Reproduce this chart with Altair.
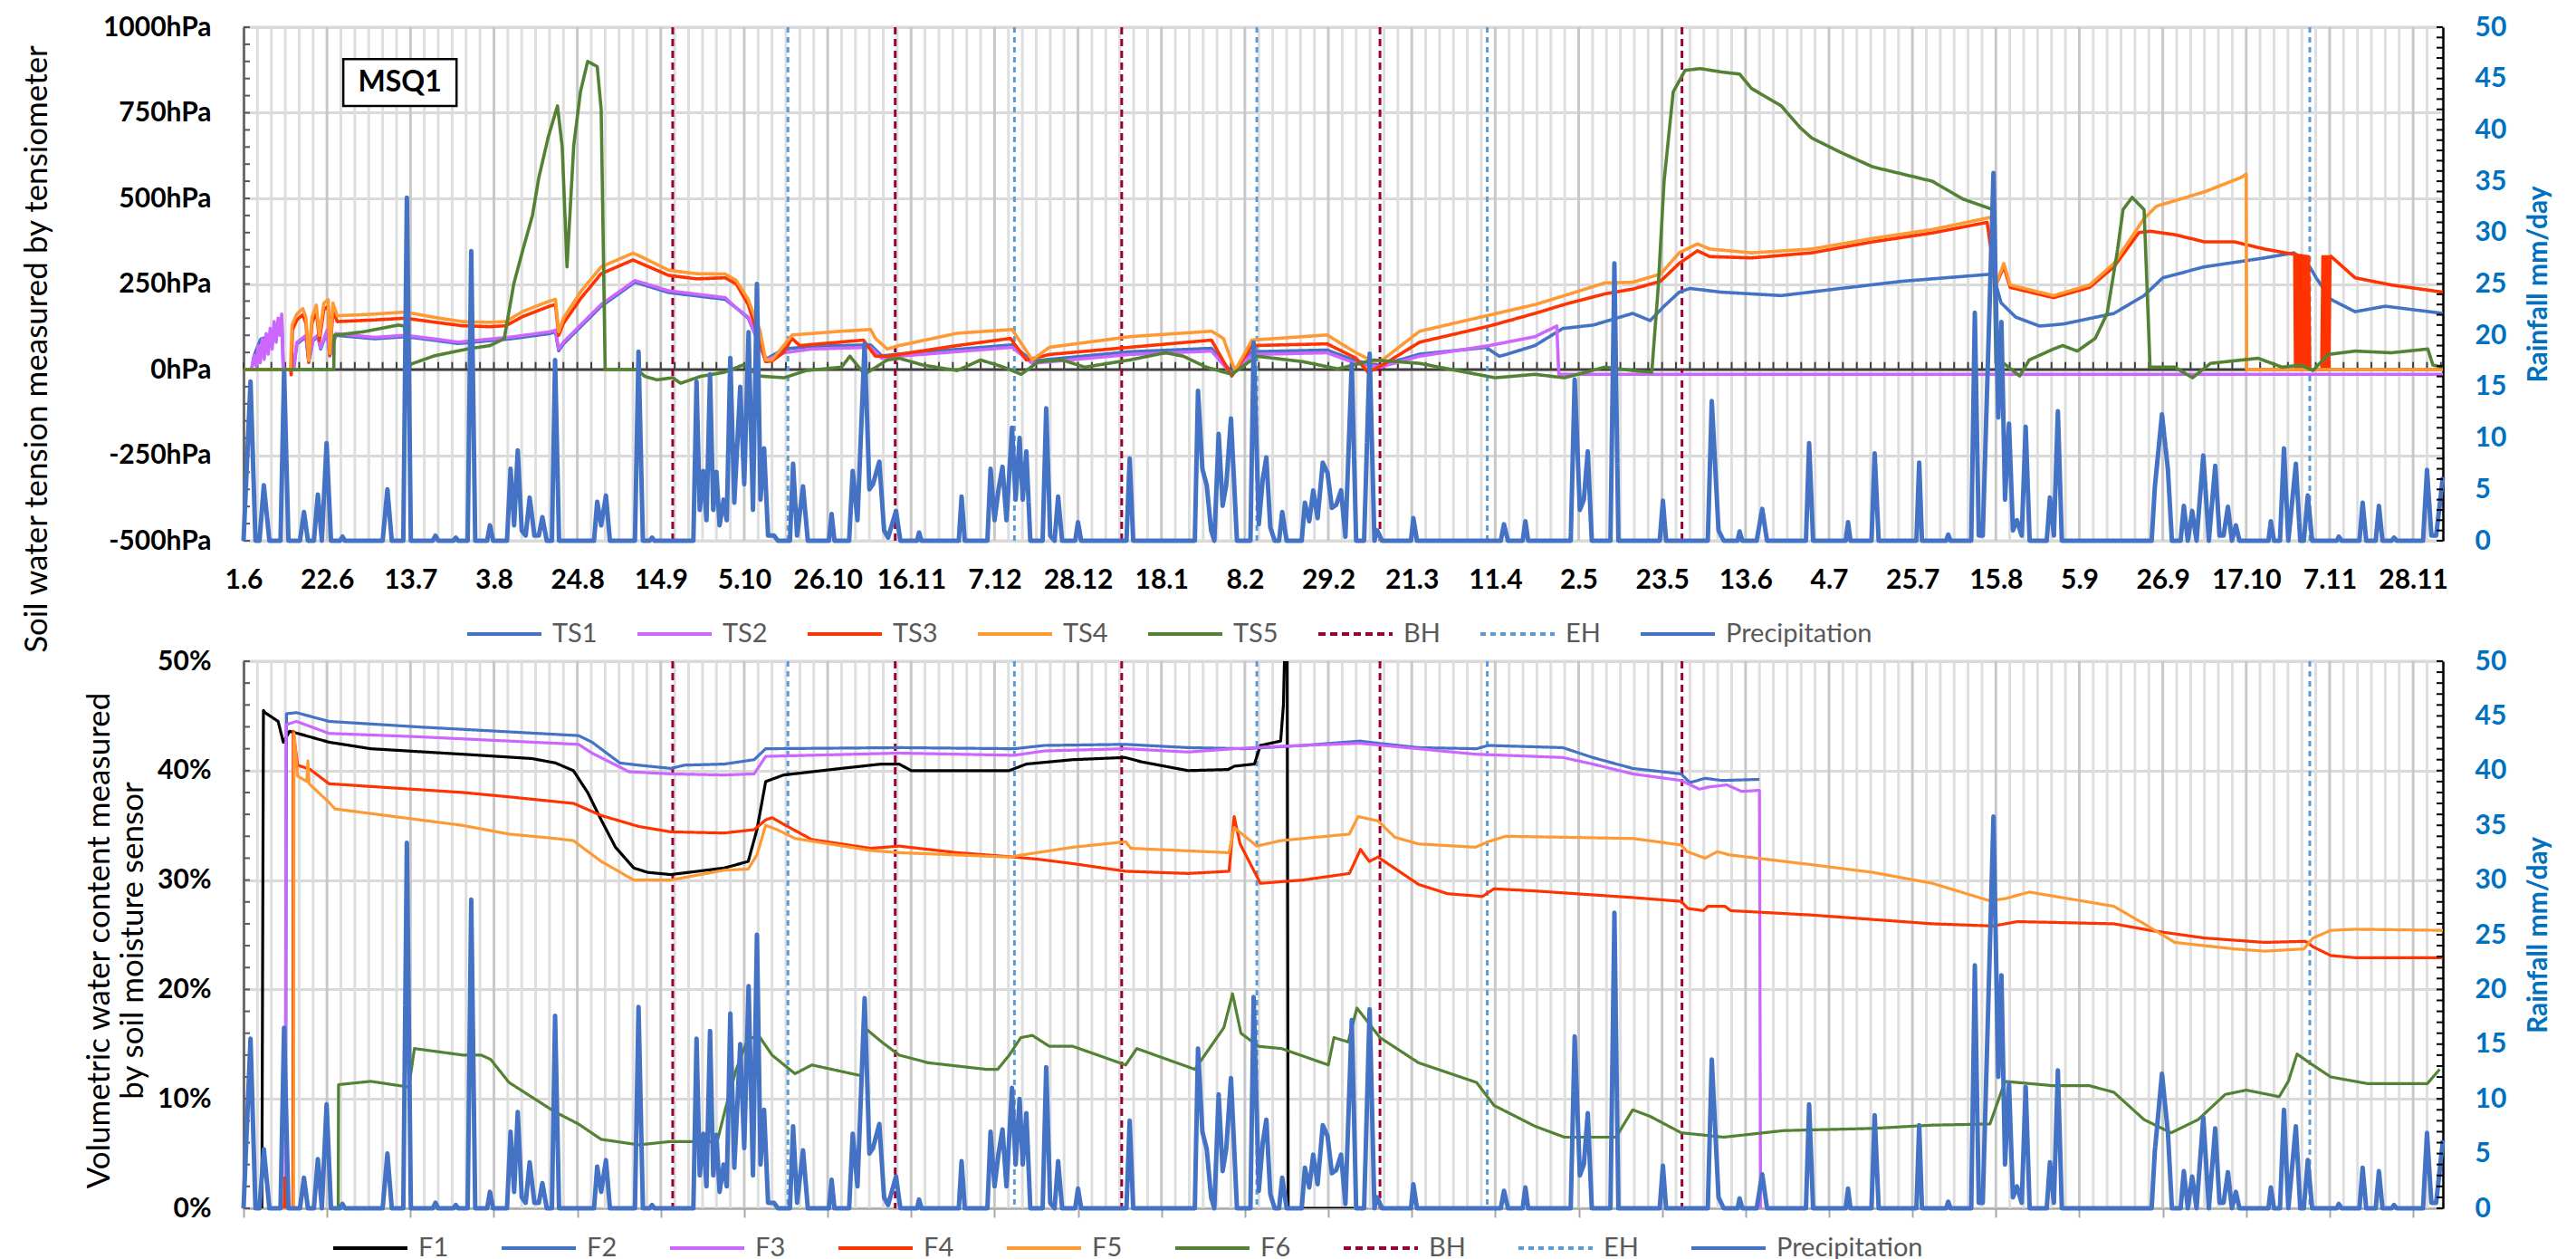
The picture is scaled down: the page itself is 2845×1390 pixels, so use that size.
import altair as alt
import pandas as pd
from datetime import date

FONT = "Lato"
START = date(2015, 6, 1)   # day 0 of the record (label "1.6")
X_END = 553.5              # last day shown on the x axis

# ---------------- values ----------------
# points are (days after 1 June 2015, value)
TS1 = [(0,0),(2,0),(2.7,42),(4.3,89),(6,95),(8,120),(9.6,150),(10,0),(12.6,0),(13.4,75),(15.7,95),(16.4,22),
       (17.5,85),(18.7,95),(19.4,60),(21,110),(21.7,40),(23.2,100),(33,90),(40.7,96),(48.3,85),(54,76),(67.4,90),
       (77,105),(78.5,110),(79.3,55),(80.5,75),(90,185),(98.5,255),(107,225),(121.2,205),(124,180),(127,150),
       (131.4,30),(136,60),(143,68),(157.8,72),(160.6,40),(165,45),(193.4,72),(198.5,25),(223,52),(243.6,62),
       (248.7,-8),(253.8,52),(272.7,57),(280,25),(286,12),(296,45),(313,65),(313.3,60),(316,39),(318,45),(325,70),
       (332,120),(339.7,130),(349.6,164),(354,143),(357.5,185),(361.3,226),(364,237),(371.9,226),(387,216),
       (402,237),(417.5,258),(440.3,279),(442.3,195),(446,153),(452,127),(458,133),(470.7,164),(478.3,216),
       (483,268),(493.5,300),(508.6,326),(516,341),(520,300),(521.6,268),(525.3,205),(531.4,169),(539,185),
       (553.5,164)]
TS2 = [(0,0),(2,0),(2.7,42),(3.2,10),(3.7,70),(4.2,20),(4.7,90),(5.2,30),(5.7,105),(6.2,45),(6.7,120),(7.2,60),
       (7.7,140),(8.2,80),(8.7,150),(9.2,100),(9.6,162),(10,0),(12.6,0),(13.4,79),(15.7,100),(16.4,26),(17.5,89),
       (18.7,100),(19.4,63),(21,115),(21.7,42),(23.2,105),(33,94),(40.7,100),(48.3,89),(54,80),(67.4,95),(77,110),
       (78.5,115),(79.3,60),(80.5,80),(90,190),(98.5,260),(107,230),(121.2,210),(124,180),(127,153),(131.4,28),
       (136,49),(143,60),(157.8,65),(160.6,33),(165,39),(193.4,65),(198.5,18),(223,44),(243.6,54),(248.7,-14),
       (253.8,44),(272.7,49),(280,18),(286,7),(296,39),(313.5,70),(325,96),(330.5,127),(331,-14),(553.5,-14)]
TS3 = [(0,0),(11.8,0),(12.0,-15),(12.3,115),(13.4,145),(14.9,160),(15.7,135),(16.4,21),(17.2,135),(18.3,170),
       (19.1,85),(20.2,175),(21.3,185),(21.7,42),(22.5,170),(23.6,140),(33,145),(40.7,150),(48.3,138),(55,128),
       (62,125),(66,128),(70.3,155),(77,185),(78.5,190),(79.3,100),(80.5,135),(85,210),(90,280),(98,320),(100,310),
       (107,275),(114,265),(121.2,268),(124,250),(127,190),(130,80),(131.4,23),(133,25),(135.9,50),(138,91),
       (140,70),(156,86),(159,39),(162,39),(179.6,70),(193,91),(197,28),(202.8,44),(223,65),(243.6,86),
       (248.7,-19),(253.8,70),(272.7,75),(280,33),(283,-8),(286.6,13),(296,80),(313.5,127),(325,164),(332.4,190),
       (342.6,221),(349.6,235),(356.6,258),(361.3,310),(365.9,347),(369,330),(379.5,326),(394.7,341),(410,373),
       (425,399),(438.8,430),(441,247),(443,300),(444.6,240),(455.5,210),(464.6,240),(470.7,300),(477,400),
       (479.8,404),(486,394),(493.5,373),(501,373),(508.6,352),(516.2,336),(516.4,0),(516.7,336),(517,0),
       (517.3,334),(517.6,0),(517.9,333),(518.2,0),(518.5,332),(518.8,0),(519.1,331),(519.4,0),(519.7,330),
       (520,0),(523,0),(523.3,330),(523.6,0),(523.9,330),(524.2,0),(524.5,330),(524.8,0),(525.1,330),
       (525.3,331),(531.4,268),(540.5,247),(553.5,226)]
TS4 = [(0,0),(11.8,0),(12.2,130),(13.4,162),(14.9,178),(15.7,152),(16.4,26),(17.2,152),(18.3,188),(19.1,100),
       (20.2,194),(21.3,204),(21.7,47),(22.5,194),(23.6,157),(33,162),(40.7,168),(48.3,152),(55,140),(62,138),
       (66,140),(70.3,170),(77,200),(78.5,205),(79.3,110),(80.5,150),(85,230),(90,300),(98,340),(100,330),
       (107,290),(114,280),(121.2,279),(124,260),(127,205),(130,112),(131.4,28),(133,28),(135.9,70),(138.1,101),
       (150.5,112),(157.8,117),(159,91),(162,60),(165,70),(179.6,106),(193.4,117),(198.5,28),(202.8,65),(223,96),
       (243.6,112),(246.6,91),(249.5,-3),(253.8,86),(272.7,101),(277,70),(280,49),(284.4,23),(286.6,28),(296,112),
       (313.5,159),(325.1,190),(332.4,216),(342.6,253),(349.6,255),(356.6,279),(361.3,341),(365.9,367),(369,352),
       (379.5,341),(394.7,352),(410,383),(425,409),(440.3,446),(441,247),(443,310),(444.6,247),(455.5,216),
       (464.6,247),(470.7,310),(478.3,441),(481.4,477),(493.5,519),(502.7,561),(504,571),(504.1,0),(553.5,0)]
TS5 = [(0,0),(22.7,0),(22.8,100),(30,110),(39,130),(40.5,127),(41.3,10),(42.4,17),(48,40),(56.3,60),(62,70),
       (65.6,90),(68,250),(70.3,350),(72.7,450),(74.3,560),(76.7,680),(79,770),(80.2,650),(81.4,300),(83.1,655),
       (84.8,812),(86.6,900),(89,885),(90,760),(91,0),(99,0),(101,-20),(104,-30),(108,-24),(110,-40),(115,-20),
       (121,-8),(125.6,13),(130,-19),(136,-24),(141.6,-3),(150.5,7),(152.6,39),(156.3,-14),(162,28),(165,33),
       (171,13),(179.6,-3),(185.5,28),(191.3,7),(195.7,-14),(200,23),(206,28),(211.7,7),(223,28),(232,49),
       (236.5,39),(242.3,7),(248.7,-14),(255,39),(266.6,23),(275.4,2),(284.4,28),(296,18),(307.6,-8),(315,-24),
       (325,-14),(332.4,-24),(342.6,7),(349.6,-3),(354.4,-8),(356,237),(357.5,550),(359.8,811),(362.8,874),
       (366.6,879),(372,869),(376.5,863),(379.5,821),(387,770),(391.7,707),(394.7,676),(402,634),(410,592),
       (417.5,571),(425,550),(432.7,498),(440.3,467),(441,18),(443,18),(447,-19),(449.4,28),(455.5,60),
       (457.8,70),(461.5,54),(466,91),(469,164),(471.5,341),(473,467),(475.3,503),(478.3,467),(479.8,7),(486,7),
       (490.5,-24),(495,18),(507,33),(513,7),(517.8,13),(520.8,-3),(524.6,44),(531.4,54),(540.5,49),(549.7,60),
       (551,13),(553.5,7)]

F1 = [(4.6,0),(5.0,45.5),(5.4,45.3),(8.7,44.5),(10,42.6),(11.6,43.6),(15.6,43.2),(21.5,42.6),(32,42),(55,41.5),
      (72.6,41.1),(78.5,40.7),(83,40),(86.6,38),(90,35.5),(93.6,33),(98.2,31.1),(101.7,30.7),(107.5,30.5),
      (121,31.1),(127,31.7),(129.2,34.6),(131.4,39),(135.9,39.6),(150.4,40.2),(160.5,40.6),(165,40.6),(168,40),
      (192.7,40),(197,40.6),(208.7,41),(221.8,41.2),(226,40.8),(237.7,40),(247.8,40.1),(249.3,40.4),(254.4,40.6),
      (255.9,42.3),(261,42.7),(261.7,46),(262.6,60),(262.9,0),(279.4,0)]
F2 = [(10.6,0),(10.8,45.2),(13.3,45.3),(21.5,44.5),(43.6,44),(84.3,43.2),(87.7,42.6),(94.7,40.7),(99.4,40.5),
      (107.5,40.2),(111,40.5),(121,40.6),(128.5,41),(131.4,42),(165,42.1),(194,42),(201.5,42.3),(221.8,42.4),
      (237.7,42.1),(252,42),(266.6,42.3),(281,42.7),(285.5,42.5),(295.7,42.1),(310.3,42),(313.2,42.3),(332,42.1),
      (339.5,41.2),(349.6,40.2),(361.8,39.7),(364,38.9),(367.8,39.3),(372,39.1),(381.5,39.2)]
F3 = [(10.5,0),(10.7,44.2),(13.3,44.5),(21.5,43.4),(43.6,43.1),(84.3,42.4),(87.7,41.6),(97,39.9),(107.5,39.7),
      (121,39.6),(128.5,39.7),(131.4,41.3),(165,41.6),(194,41.4),(201.5,41.8),(222,42),(237.7,41.7),(249.3,42),
      (259.5,42.2),(281,42.5),(310,41.5),(332,41.2),(339.5,40.6),(349.6,39.7),(361.8,39.1),(366.4,38.3),
      (368.7,38.5),(373.3,38.7),(377,38.1),(381.5,38.2),(381.8,0)]
F4 = [(10.2,0),(10.4,2.8),(10.6,0),(12.4,0),(12.5,43.6),(13.6,40.5),(16.8,40.1),(21.5,38.8),(55.2,38),
      (66.8,37.6),(83.1,37),(90,35.9),(99.4,34.9),(107.5,34.4),(121,34.3),(128.5,34.6),(131.4,35.5),(133,35.7),
      (137.4,34.8),(143,33.7),(157.8,32.9),(165,33.1),(179.6,32.5),(194,32.1),(200,31.9),(208.7,31.5),(222,30.8),
      (237.7,30.6),(248,30.8),(249.3,35.8),(250.8,33.3),(255.9,29.7),(266.6,30),(278.3,30.6),(281.1,32.8),
      (283.3,31.7),(285.5,32.1),(295.7,29.6),(303,28.75),(311.8,28.5),(314.7,29.2),(325,29),(349.6,28.4),
      (361.8,28.05),(363.5,27.4),(367.4,27.2),(368.5,27.6),(372.8,27.6),(374.3,27.2),(394.7,26.8),(425,26),
      (440.3,25.8),(446.4,26.2),(470.7,26),(479.8,25.4),(493.5,24.7),(508.6,24.3),(518.9,24.4),(520.8,23.9),
      (525.3,23.1),(531.4,22.9),(553.5,22.9)]
F5 = [(12.6,0),(12.7,43.4),(13.6,39.5),(15.9,39.0),(16.2,40.9),(16.5,38.8),(21.5,37.1),(23,36.5),(55,35),
      (66.8,34.2),(78.5,33.8),(83,33.6),(90,31.7),(98.2,30),(107.5,30),(121,30.9),(127,31),(129.2,32.3),
      (131.4,35),(134.3,34.6),(138.8,33.8),(157.8,32.7),(165,32.5),(193,32.1),(196,32.3),(208.7,33),(222,33.5),
      (223.3,32.9),(248,32.5),(249.3,34.8),(252,34),(255,33.1),(261,33.6),(278.3,34.2),(280.5,35.8),(285.5,35.4),
      (289.8,33.9),(295.7,33.3),(310,33),(313.2,33.5),(317.6,34),(349.6,33.8),(361.8,33.2),(363.3,32.6),
      (367.8,32),(370.9,32.6),(373.9,32.3),(394.7,31.4),(410,30.7),(425,29.7),(439.5,28.1),(443.3,28.3),
      (449.4,28.9),(470.7,27.6),(478.3,26),(486,24.3),(501,23.7),(508.6,23.5),(518.5,23.7),(520.8,24.7),
      (525.3,25.4),(531.4,25.5),(553.5,25.4)]
F6 = [(23.8,0),(23.9,11.3),(32,11.6),(41.2,11.1),(41.6,11.1),(43,14.6),(55.2,14),(59.8,14),(62.2,13.6),
      (66.8,11.5),(78.4,8.8),(84.3,7.7),(90,6.3),(99.4,5.8),(107.5,6.1),(119.2,6.1),(121.2,9),(124,12.7),
      (127,15.6),(130,15.6),(133,14),(137.4,12.7),(138.8,12.3),(143,13.1),(155.6,12.1),(156.3,16.5),(160.6,15.2),
      (165,14),(172.3,13.3),(186.9,12.7),(189.8,12.7),(192.7,14),(195.6,15.6),(198.5,15.8),(202.8,14.8),
      (208.7,14.8),(222,13.1),(224.8,14.6),(239.4,12.7),(246.7,16.5),(248.9,19.6),(251,16),(255.4,14.8),
      (261.2,14.6),(273,13.1),(274.4,15.6),(278,15.2),(280.2,18.3),(286,15.6),(295.7,13.3),(310.3,11.5),
      (314.7,9.4),(325,7.5),(332.4,6.5),(345.4,6.5),(349.6,9),(354,8.4),(361.8,6.9),(372.5,6.5),(387.6,7.1),
      (410,7.3),(425,7.6),(439.5,7.7),(443.3,11.6),(455.5,11.2),(464.6,11.2),(470.7,10.6),(478.3,8.1),
      (485.1,6.9),(491.9,8.1),(498.7,10.4),(504,10.8),(512.3,10.2),(514.6,11.6),(516.8,14.1),(519.9,13.3),
      (525.3,12),(534.4,11.4),(549.6,11.4),(552.7,12.7)]

PRECIP = [(0,0),(1.75,15.5),(3.0,0),(4.0,0),(5.1,5.4),(6.5,0),(9.3,0),(10.2,16.5),(11.3,0),(14.2,0),(15.2,2.8),
          (16.2,0),(17.7,0),(18.7,4.5),(19.7,0),(20.9,9.5),(22.0,0),(24.3,0),(24.9,0.4),(25.5,0),(35.0,0),
          (36.2,5.0),(37.3,0),(40.2,0),(41.1,33.4),(42.1,0),(47.6,0),(48.3,0.5),(49.0,0),(52.8,0),(53.4,0.3),
          (54.0,0),(56.4,0),(57.3,28.2),(58.3,0),(61.3,0),(62.0,1.5),(62.8,0),(66.3,0),(67.2,7.0),(68.1,1.5),
          (69.0,8.8),(70.0,1.0),(71.0,0.5),(72.0,4.2),(73.2,0.5),(74.3,0.5),(75.2,2.3),(76.3,0),(77.6,0),
          (78.4,17.6),(79.4,0),(88.2,0),(89.0,3.8),(90.0,1.5),(91.2,4.4),(92.2,0),(98.5,0),(99.4,18.4),(100.5,0),
          (102.2,0),(102.8,0.3),(103.4,0),(113.2,0),(114.0,15.5),(114.8,3.0),(115.7,6.8),(116.5,2.0),(117.4,16.2),
          (118.2,3.0),(119.0,6.7),(119.8,1.5),(120.8,4.0),(121.6,2.0),(122.5,17.8),(123.5,3.7),(125.0,15.0),
          (126.0,5.5),(127.1,20.3),(128.2,3.0),(129.2,25.0),(130.1,4.0),(131.0,9.0),(132.0,0.5),(133.5,0.5),
          (134.5,0),(137.5,0),(138.3,7.5),(139.3,0.5),(140.8,5.3),(142.0,0),(147.3,0),(148.0,2.6),(148.7,0),
          (152.4,0),(153.3,6.8),(154.5,2.0),(156.3,19.2),(157.5,5.0),(158.4,5.5),(160.0,7.7),(161.2,1.0),
          (162.2,0.3),(164.2,2.9),(165.3,0),(169.5,0),(170.0,0.8),(170.6,0),(180.0,0),(180.7,4.3),(181.5,0),
          (187.2,0),(188.0,7.0),(189.0,2.0),(190.0,5.0),(191.0,7.2),(192.0,2.0),(193.4,11.0),(194.3,4.0),
          (195.3,10.0),(196.1,4.0),(197.0,8.7),(198.0,0),(201.1,0),(202.0,12.9),(203.0,0.5),(204.1,0),(205.0,4.3),
          (206.0,0),(209.3,0),(210.0,1.8),(210.8,0),(222.2,0),(223.0,8.0),(223.9,0),(239.4,0),(240.2,14.6),
          (241.3,7.0),(242.4,5.4),(243.5,1.0),(244.3,0),(245.4,10.4),(246.4,3.4),(247.3,5.4),(248.5,11.9),
          (250.0,0),(253.4,0),(254.2,19.3),(255.5,1.6),(256.5,6.0),(257.4,8.1),(258.4,1.3),(259.5,0),(260.6,0),
          (261.4,2.8),(262.5,0),(266.3,0),(267.1,3.7),(268.2,1.9),(269.2,4.9),(270.3,2.2),(271.6,7.6),(272.8,6.6),
          (273.9,3.2),(275.0,3.5),(276.2,4.9),(277.3,0.4),(278.9,17.2),(280.0,0),(282.0,0),(283.4,18.2),(284.6,0),
          (285.3,1.0),(286.5,0),(293.8,0),(294.4,2.2),(295.3,0),(316.4,0),(317.2,1.6),(318.2,0),(321.9,0),
          (322.6,1.9),(323.3,0),(334.0,0),(335.0,15.7),(336.3,3.0),(337.3,4.0),(338.3,8.7),(339.3,0),(344.0,0),
          (345.0,27.0),(346.0,0),(356.4,0),(357.2,3.9),(358.0,0),(368.5,0),(369.5,13.6),(371.2,1.0),(372.5,0),
          (376.0,0),(376.5,0.9),(377.2,0),(380.8,0),(382.2,3.1),(383.4,0),(393.2,0),(394.0,9.5),(395.0,0),
          (403.2,0),(403.8,1.8),(404.4,0),(409.7,0),(410.5,8.5),(411.5,0),(421.0,0),(421.7,7.6),(422.4,0),
          (428.5,0),(429.0,0.6),(429.6,0),(434.8,0),(435.7,22.2),(436.7,0.5),(437.7,0.5),(440.4,35.8),(441.6,12.0),
          (442.4,21.3),(443.3,4.0),(444.3,11.4),(445.3,1.0),(446.3,2.0),(447.5,0.5),(448.5,11.1),(449.5,0),
          (453.8,0),(454.6,4.2),(455.6,0.5),(456.6,12.6),(457.6,0),(480.2,0),(481.0,5.2),(482.8,12.3),(484.3,6.9),
          (485.3,0),(487.5,0),(488.3,3.4),(489.3,0),(490.4,2.9),(491.5,0),(493.2,8.3),(494.6,0),(496.2,7.3),
          (497.3,0.5),(498.3,0.5),(499.4,3.3),(500.4,0),(501.4,1.5),(502.3,0),(509.6,0),(510.2,1.9),(511.0,0),
          (512.5,0),(513.5,9.0),(514.6,0),(516.5,7.5),(517.6,0),(518.5,0),(519.5,4.4),(520.6,0),(526.8,0),
          (527.3,0.4),(528.0,0),(532.5,0),(533.3,3.7),(534.2,0),(536.6,0),(537.4,3.4),(538.3,0),(540.6,0),
          (541.2,0.3),(541.9,0),(548.5,0),(549.5,6.9),(550.6,0.5),(551.8,0.5),(553.5,6.2)]

BH_DATES = ["2015-09-17", "2015-11-12", "2016-01-08", "2016-03-13", "2016-05-28"]
EH_DATES = ["2015-10-16", "2015-12-12", "2016-02-11", "2016-04-09", "2016-11-02"]
X_TICK_DAYS = list(range(0, 547, 21))
HPA_TICKS = [-500, -250, 0, 250, 500, 750, 1000]
VWC_TICKS = [0, 10, 20, 30, 40, 50]
RAIN_TICKS = list(range(0, 51, 5))

TOP_SERIES = [("TS1", TS1), ("TS2", TS2), ("TS3", TS3), ("TS4", TS4), ("TS5", TS5)]
BOT_SERIES = [("F1", F1), ("F2", F2), ("F3", F3), ("F4", F4), ("F5", F5), ("F6", F6)]
TOP_COLORS = ["#4472C4", "#CC66FF", "#FF3300", "#FF9933", "#548235"]
BOT_COLORS = ["#000000", "#4472C4", "#CC66FF", "#FF3300", "#FF9933", "#548235"]
BH_COLOR, EH_COLOR, RAIN_COLOR = "#990033", "#5B9BD5", "#4472C4"

# ---------------- geometry ----------------
W = 2429
H_TOP = 567
H_BOT = 604


def day_of(s):
    return (date.fromisoformat(s) - START).days


def pts_df(pts, name):
    return pd.DataFrame({"day": [p[0] for p in pts], "value": [p[1] for p in pts], "series": name})


X_SCALE = alt.Scale(domain=[0, X_END], nice=False, zero=False)

X_AXIS_TOP = alt.Axis(values=X_TICK_DAYS,
                      labelExpr="timeFormat(datetime(2015, 5, 1 + datum.value), '%-d.%-m')",
                      labelFont=FONT, labelFontSize=30, labelFontWeight="bold", labelColor="black",
                      labelPadding=28, labelFlush=False, labelOverlap=False, ticks=False, domain=False,
                      grid=False, title=None)
X_AXIS_BOT = alt.Axis(values=X_TICK_DAYS, labels=False, ticks=True, tickSize=10, tickColor="#a6a6a6",
                      tickWidth=2, domain=True, domainColor="#a6a6a6", domainWidth=2, grid=False, title=None)


def left_axis(values, expr, title, tx, ty):
    return alt.Axis(values=values, labelExpr=expr, labelFont=FONT, labelFontSize=30, labelFontWeight="bold",
                    labelColor="black", labelPadding=36, ticks=False, domain=True, domainColor="#595959",
                    domainWidth=2.5, grid=True, gridColor="#d9d9d9", gridWidth=3, title=title,
                    titleFont=FONT, titleFontSize=35, titleFontWeight="normal", titleColor="black",
                    titleAngle=270, titleX=tx, titleY=ty, titleAlign="center", titleBaseline="middle",
                    titleLineHeight=37)


def rain_axis(h):
    return alt.Axis(orient="right", values=RAIN_TICKS, labelFont=FONT, labelFontSize=30, labelFontWeight="bold",
                    labelColor="#0070C0", labelPadding=35, ticks=False, domain=True, domainColor="black",
                    domainWidth=2.5, grid=False, title="Rainfall mm/day", titleFont=FONT, titleFontSize=30,
                    titleFontWeight="bold", titleColor="#0070C0", titleAngle=270, titleX=105, titleY=h / 2,
                    titleAlign="center", titleBaseline="middle")


def make_legend(x, y, col_pad):
    return alt.Legend(orient="none", legendX=x, legendY=y, direction="horizontal", title=None,
                      symbolType="stroke", symbolSize=6724, symbolStrokeWidth=4, labelFont=FONT,
                      labelFontSize=29, labelColor="#595959", labelOffset=10, columnPadding=col_pad,
                      padding=0, labelLimit=400)


def build_panel(series, colors, height, y_dom, y_axis, minor_tick_step, x_axis, legend, line_w, top=False):
    names = [n for n, _ in series] + ["BH", "EH", "Precipitation"]
    cols = colors + [BH_COLOR, EH_COLOR, RAIN_COLOR]
    dashes = [[1, 0]] * len(series) + [[8, 5], [6, 5], [1, 0]]
    cscale = alt.Scale(domain=names, range=cols)
    dscale = alt.Scale(domain=names, range=dashes)
    color = alt.Color("series:N", scale=cscale, legend=legend)
    dash = alt.StrokeDash("series:N", scale=dscale, legend=legend)
    y_scale = alt.Scale(domain=y_dom, nice=False, zero=False)
    r_scale = alt.Scale(domain=[0, 50], nice=False)
    r_axis = rain_axis(height)
    xe = alt.X("day:Q", scale=X_SCALE, axis=x_axis)

    minor = pd.DataFrame({"day": [i * 3.5 for i in range(1, int(X_END / 3.5) + 1)
                                  if (i * 3.5) % 21 != 0 and i * 3.5 < X_END - 1]})
    major = pd.DataFrame({"day": [d for d in X_TICK_DAYS if d > 0]})
    left = [
        alt.Chart(minor).mark_rule(color="#dedede", strokeWidth=3).encode(x=xe),
        alt.Chart(major).mark_rule(color="#c8c8c8", strokeWidth=3).encode(x=xe),
    ]
    # inner tick marks on the left axis
    lt = [y_dom[0] + i * minor_tick_step for i in range(int((y_dom[1] - y_dom[0]) / minor_tick_step) + 1)]
    ltick = pd.DataFrame({"x0": 0.0, "x1": 1.6, "v": lt})
    left.append(alt.Chart(ltick).mark_rule(color="#595959", strokeWidth=2).encode(
        x=alt.X("x0:Q", scale=X_SCALE, axis=x_axis), x2="x1:Q",
        y=alt.Y("v:Q", scale=y_scale, axis=y_axis)))
    if top:
        zero = pd.DataFrame({"v": [0]})
        left.append(alt.Chart(zero).mark_rule(color="#404040", strokeWidth=3).encode(
            y=alt.Y("v:Q", scale=y_scale, axis=y_axis)))
        zt = pd.DataFrame({"day": [i * 3.5 for i in range(0, int(X_END / 3.5) + 1)], "y0": 0, "y1": 22})
        left.append(alt.Chart(zt).mark_rule(color="#404040", strokeWidth=2).encode(
            x=xe, y=alt.Y("y0:Q", scale=y_scale, axis=y_axis), y2="y1:Q"))
        box = pd.DataFrame({"x0": [25.1], "x1": [53.6], "y0": [770], "y1": [907], "tx": [39.35], "ty": [838],
                            "label": ["MSQ1"]})
        left.append(alt.Chart(box).mark_rect(fill="white", stroke="black", strokeWidth=2.5).encode(
            x=alt.X("x0:Q", scale=X_SCALE, axis=x_axis), x2="x1:Q",
            y=alt.Y("y0:Q", scale=y_scale, axis=y_axis), y2="y1:Q"))
        left.append(alt.Chart(box).mark_text(font=FONT, fontSize=32, fontWeight="bold", color="black").encode(
            x=alt.X("tx:Q", scale=X_SCALE, axis=x_axis), y=alt.Y("ty:Q", scale=y_scale, axis=y_axis),
            text="label:N"))
    vl = pd.DataFrame({"day": [day_of(d) for d in BH_DATES] + [day_of(d) for d in EH_DATES],
                       "series": ["BH"] * len(BH_DATES) + ["EH"] * len(EH_DATES)})
    left.append(alt.Chart(vl).mark_rule(strokeWidth=3).encode(x=xe, color=color, strokeDash=dash))
    for name, pts in series:
        left.append(alt.Chart(pts_df(pts, name)).mark_line(strokeWidth=line_w, clip=True, strokeJoin="round").encode(
            x=xe, y=alt.Y("value:Q", scale=y_scale, axis=y_axis), color=color, strokeDash=dash,
            order="day:Q"))

    rain = pts_df(PRECIP, "Precipitation")
    rtick = pd.DataFrame({"x0": X_END - 1.6, "x1": X_END, "v": list(range(0, 51))})
    right = [
        alt.Chart(rain).mark_line(strokeWidth=5, strokeJoin="round").encode(
            x=xe, y=alt.Y("value:Q", scale=r_scale, axis=r_axis), color=color, strokeDash=dash,
            order="day:Q"),
        alt.Chart(rtick).mark_rule(color="black", strokeWidth=2).encode(
            x=alt.X("x0:Q", scale=X_SCALE, axis=x_axis), x2="x1:Q",
            y=alt.Y("v:Q", scale=r_scale, axis=r_axis)),
    ]
    return alt.layer(alt.layer(*left), alt.layer(*right)).resolve_scale(y="independent").properties(
        width=W, height=height)


top = build_panel(TOP_SERIES, TOP_COLORS, H_TOP, [-500, 1000],
                  left_axis(HPA_TICKS, "datum.value + 'hPa'", "Soil water tension measured by tensiometer",
                            -229, 355),
                  50, X_AXIS_TOP, make_legend(245, 627, 36), 3.6, top=True)
bottom = build_panel(BOT_SERIES, BOT_COLORS, H_BOT, [0, 50],
                     left_axis(VWC_TICKS, "datum.value + '%'",
                               ["Volumetric water content measured", "by soil moisture sensor"], -160, 308),
                     2, X_AXIS_BOT, make_legend(97, 605, 50), 3.2)

chart = alt.vconcat(top, bottom, spacing=133, bounds="flush").resolve_scale(
    color="independent", strokeDash="independent").properties(
    padding={"left": 13, "top": 5, "right": 5, "bottom": 0}).configure(font=FONT).configure_view(
    stroke="#d9d9d9", strokeWidth=3)

chart.save("out.html", embed_options={"renderer": "svg", "actions": False})
